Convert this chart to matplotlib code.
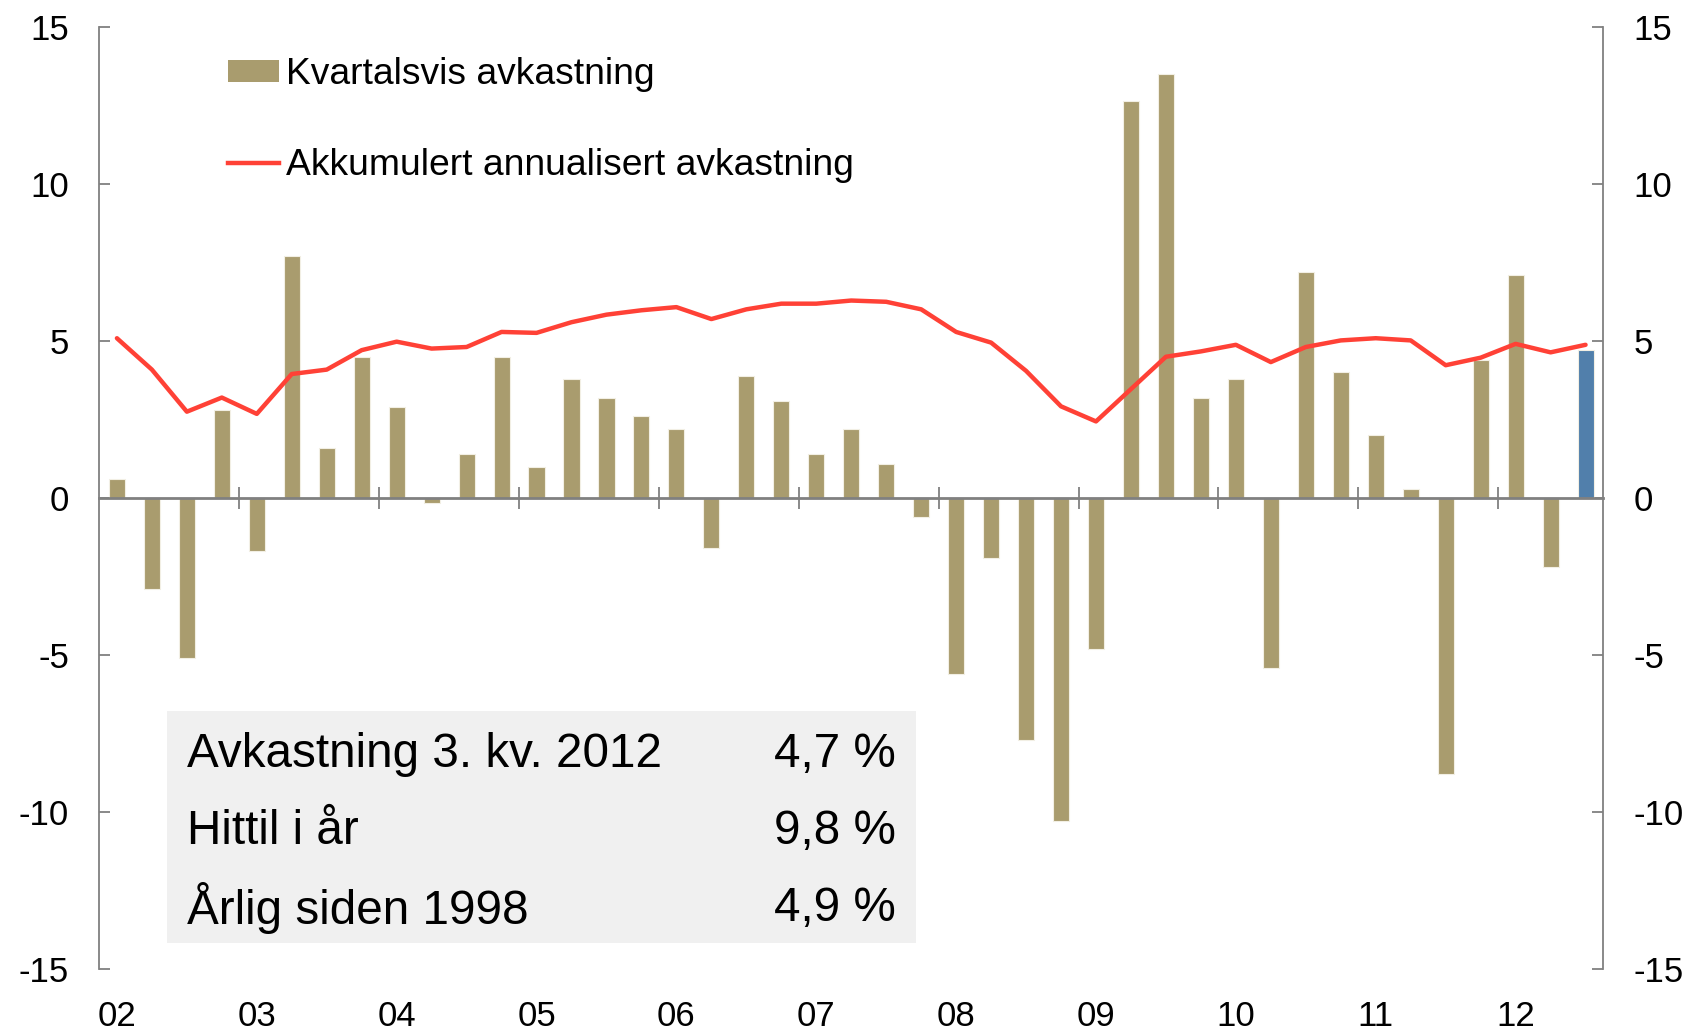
import matplotlib
matplotlib.use("Agg")
import matplotlib.pyplot as plt
from matplotlib.lines import Line2D
from matplotlib.patches import Patch, Rectangle
import numpy as np

plt.rcParams['font.family'] = ['Liberation Sans', 'DejaVu Sans']

# ---- data ----
year_labels = ["02", "03", "04", "05", "06", "07", "08", "09", "10", "11", "12"]
quarterly = [0.6, -2.9, -5.1, 2.8,
             -1.7, 7.7, 1.6, 4.5,
             2.9, -0.15, 1.4, 4.5,
             1.0, 3.8, 3.2, 2.6,
             2.2, -1.6, 3.9, 3.1,
             1.4, 2.2, 1.1, -0.6,
             -5.6, -1.9, -7.7, -10.3,
             -4.8, 12.65, 13.5, 3.2,
             3.8, -5.4, 7.2, 4.0,
             2.0, 0.3, -8.8, 4.4,
             7.1, -2.2, 4.7]
accumulated = [5.09, 4.09, 2.75, 3.2,
               2.68, 3.95, 4.09, 4.71,
               4.98, 4.76, 4.81, 5.29,
               5.26, 5.6, 5.84, 5.98,
               6.08, 5.7, 6.01, 6.19,
               6.19, 6.29, 6.25, 6.01,
               5.29, 4.95, 4.05, 2.92,
               2.44, 3.47, 4.5, 4.67,
               4.88, 4.33, 4.81, 5.02,
               5.09, 5.02, 4.23, 4.47,
               4.91, 4.64, 4.88]
legend_labels = ["Kvartalsvis avkastning", "Akkumulert annualisert avkastning"]
table_rows = ["Avkastning 3. kv. 2012", "Hittil i år", "Årlig siden 1998"]
table_vals = ["4,7 %", "9,8 %", "4,9 %"]

BAR = "#a99c6e"
BLUE = "#517fab"
RED = "#ff4136"
GRAY = "#808080"

fig = plt.figure(figsize=(16.94, 10.32), dpi=100)
ax = fig.add_axes([0.0587, 0.061, 0.8876, 0.9128])

n = len(quarterly)
x = np.arange(n)
colors = [BAR] * (n - 1) + [BLUE]
ax.bar(x, quarterly, width=0.46, color=colors, edgecolor="#f2efe4", linewidth=0.8, zorder=2)
ax.plot(x, accumulated, color=RED, lw=3.2, zorder=3, solid_capstyle="round")

ax.set_xlim(-0.5, n - 0.5)
ax.set_ylim(-15, 15)

ax.spines["top"].set_visible(False)
for s in ["left", "right"]:
    ax.spines[s].set_color(GRAY)
    ax.spines[s].set_linewidth(1.3)
# zero line as the bottom spine
ax.spines["bottom"].set_position(("data", 0))
ax.spines["bottom"].set_color(GRAY)
ax.spines["bottom"].set_linewidth(2.0)
ax.spines["bottom"].set_zorder(4)

yt = [-15, -10, -5, 0, 5, 10, 15]
ax.set_yticks(yt)
ax.set_yticklabels([str(v) for v in yt])
ax.tick_params(axis="y", which="both", direction="in", length=8, width=1.3, color=GRAY,
               labelsize=25, pad=22, left=True, right=True, labelleft=True, labelright=True)

# year labels at Q1 positions, pushed down to below the plot area
ax.set_xticks(np.arange(0, n, 4))
ax.set_xticklabels(year_labels)
ax_h_px = 0.9128 * 1032
pad_pt = (ax_h_px / 2 + 31) * 72 / 100
ax.tick_params(axis="x", which="major", length=0, labelsize=25, pad=pad_pt)
ax.set_xticks(np.arange(3.5, n, 4), minor=True)
ax.tick_params(axis="x", which="minor", direction="inout", length=16, width=1.3, color=GRAY)

# legend
handles = [Patch(facecolor=BAR, edgecolor="none"),
           Line2D([0], [0], color=RED, lw=3.2)]
leg = ax.legend(handles, legend_labels, loc="upper left", bbox_to_anchor=(0.0855, 0.968),
                frameon=False, fontsize=26.8, handlelength=1.37, handleheight=0.52,
                handletextpad=0.18, labelspacing=1.5, borderpad=0, borderaxespad=0)

# summary box
ax.add_patch(Rectangle((0.0449, 0.0276), 0.498, 0.2464, transform=ax.transAxes,
                       facecolor="#f0f0f0", edgecolor="none", zorder=4))
ys = [0.2275, 0.1455, 0.0645]
for lab, val, yy in zip(table_rows, table_vals, ys):
    ax.text(0.0582, yy, lab, transform=ax.transAxes, fontsize=34.3, va="center", ha="left", zorder=5)
    ax.text(0.530, yy, val, transform=ax.transAxes, fontsize=34.3, va="center", ha="right", zorder=5)

fig.savefig("out.png", dpi=100)
